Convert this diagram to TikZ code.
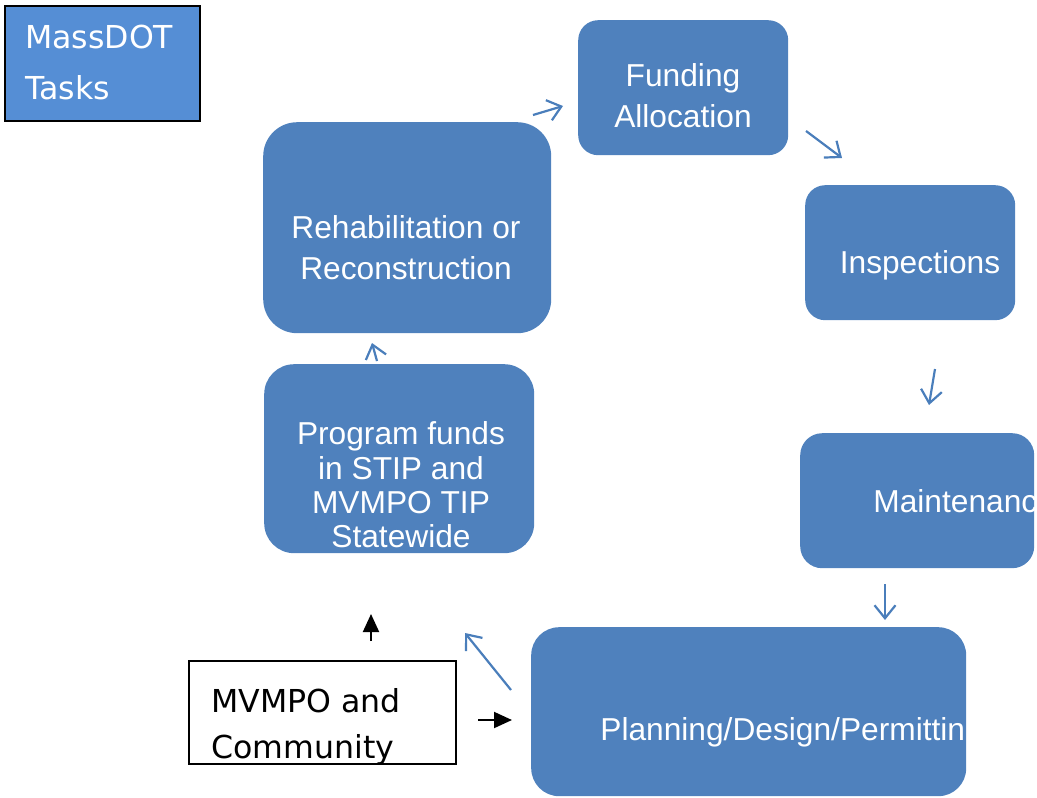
\documentclass[tikz,border=0pt]{standalone}
\usepackage{fontspec}
\setmainfont{Liberation Sans}
\newfontfamily\verdanalike{DejaVu Sans}
\usetikzlibrary{arrows.meta,positioning}
\definecolor{taskblue}{RGB}{79,129,189}
\definecolor{headblue}{RGB}{85,142,213}
\definecolor{arrowblue}{RGB}{74,126,187}
\tikzstyle{block} = [rectangle, fill=taskblue, inner sep=0pt, anchor=north west]
\tikzstyle{boxtext} = [text=white, align=center, inner sep=0pt, minimum size=0pt, font=\fontsize{31.7}{41}\selectfont]
\tikzstyle{notebox} = [rectangle, draw=black, line width=1.5pt, inner sep=0pt, anchor=north west]
\tikzstyle{notetext} = [align=left, inner sep=0pt, anchor=west, font=\verdanalike\fontsize{31.6}{46}\selectfont]
\tikzstyle{flow} = [draw=arrowblue, line width=2.2pt, -{Straight Barb[length=13pt,width=21pt]}]
\tikzstyle{push} = [draw=black, line width=2pt, -{Triangle[length=18pt,width=16pt]}]

\begin{document}
\begin{tikzpicture}[x=1pt, y=-1pt]
    \useasboundingbox (0,0) rectangle (1037,798);

    % titel
    \node[notebox, fill=headblue, minimum width=195pt, minimum height=115pt] (massdot) at (4,5) {};
    \node[notetext, text=white, font=\verdanalike\fontsize{31.6}{51}\selectfont] (massdottext) at (25,62) {MassDOT\\Tasks};

    % kreislauf
    \node[block, minimum width=210pt, minimum height=135pt, rounded corners=20pt] (funding) at (578,20) {};
    \node[boxtext] (fundingtext) at (683,96) {Funding\\Allocation};

    \node[block, minimum width=210pt, minimum height=135pt, rounded corners=20pt] (inspect) at (805,185) {};
    \node[boxtext] (inspecttext) at (920,265) {Inspections};

    \node[block, minimum width=234pt, minimum height=135pt, rounded corners=22pt,
          path picture={\node[boxtext, anchor=west] at ([xshift=73pt]path picture bounding box.west) {Maintenanc};}] (maint) at (800,433) {};

    \node[block, minimum width=435pt, minimum height=169pt, rounded corners=28pt,
          path picture={\node[boxtext, anchor=west] at ([xshift=69pt,yshift=-21pt]path picture bounding box.west) {Planning/Design/Permittin};}] (plan) at (531,627) {};

    \node[block, minimum width=270pt, minimum height=189pt, rounded corners=30pt] (program) at (264,364) {};
    \node[boxtext, font=\fontsize{31.7}{34.3}\selectfont] (programtext) at (401,485) {Program funds\\in STIP and\\MVMPO TIP\\Statewide};

    \node[block, minimum width=288pt, minimum height=211pt, rounded corners=34pt] (rehab) at (263,122) {};
    \node[boxtext] (rehabtext) at (406,248) {Rehabilitation or\\Reconstruction};

    % partner
    \node[notebox, fill=white, minimum width=267pt, minimum height=103pt] (mvmpo) at (188,660) {};
    \node[notetext] (mvmpotext) at (211,727) {MVMPO and\\Community};

    % pfeile
    \coordinate (r2f) at (533,115);  \coordinate (f2r) at (563,106);
    \coordinate (f2i) at (806,131);  \coordinate (i2f) at (842,158);
    \coordinate (i2m) at (935,369);  \coordinate (m2i) at (929,405);
    \coordinate (m2p) at (885,584);  \coordinate (p2m) at (885,620);
    \coordinate (p2g) at (511,690);  \coordinate (g2p) at (465,633);
    \coordinate (g2r) at (377,361);  \coordinate (r2g) at (372,343);
    \coordinate (v2g) at (371,641);  \coordinate (g2v) at (371,614);
    \coordinate (v2p) at (478,720);  \coordinate (p2v) at (512,720);

    \draw[flow] (r2f) -- (f2r);
    \draw[flow] (f2i) -- (i2f);
    \draw[flow] (i2m) -- (m2i);
    \draw[flow] (m2p) -- (p2m);
    \draw[flow] (p2g) -- (g2p);
    \draw[flow] (g2r) -- (r2g);

    \draw[push] (v2g) -- (g2v);
    \draw[push] (v2p) -- (p2v);
\end{tikzpicture}
\end{document}
